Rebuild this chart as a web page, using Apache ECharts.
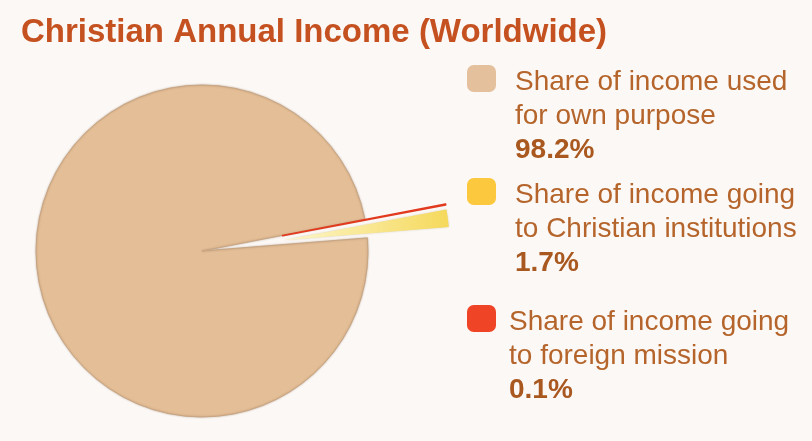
<!DOCTYPE html>
<html>
<head>
<meta charset="utf-8">
<script src="https://cdn.jsdelivr.net/npm/echarts@6/dist/echarts.min.js"></script>
<style>
  html, body { margin: 0; padding: 0; background: #fcf8f5; }
  #chart { width: 812px; height: 441px; }
</style>
</head>
<body>
<div id="chart"></div>
<script>
// 图表数据
const categories = [
  'Share of income used\nfor own purpose',
  'Share of income going\nto Christian institutions',
  'Share of income going\nto foreign mission'
]
const shares = [98.2, 1.7, 0.1]
const swatchColors = ['#e5c09c', '#fcc83e', '#ef4526']

const chart = echarts.init(document.getElementById('chart'))
const font = '"Liberation Sans", Arial, sans-serif'

// 每个图例单独摆放（间距不一样）
const legendTops = [-10.5, 102.5, 229.5]
const legendPadLeft = [14, 14, 8]

const legends = categories.map((name, i) => {
  return {
    data: [{ name: name, itemStyle: { color: swatchColors[i], borderWidth: 0, shadowBlur: 0 } }],
    left: 467,
    top: legendTops[i],
    padding: 0,
    orient: 'vertical',
    icon: 'roundRect',
    itemWidth: 29,
    itemHeight: 27,
    selectedMode: false,
    formatter: (n) => {
      const lines = n.split('\n').map(l => '{t|' + l + '}')
      return lines.join('\n') + '\n{p|' + shares[i] + '%}'
    },
    textStyle: {
      padding: [76, 0, 0, legendPadLeft[i]],
      backgroundColor: 'rgba(0,0,0,0)',
      rich: {
        t: { fontFamily: font, fontSize: 28, color: '#b5652b', lineHeight: 34 },
        p: { fontFamily: font, fontSize: 28, fontWeight: 'bold', color: '#a9581f', lineHeight: 34 }
      }
    }
  }
})

const sliceStyles = [
  {
    color: '#e4be96',
    borderColor: '#c9a684',
    borderWidth: 1,
    shadowBlur: 2,
    shadowColor: 'rgba(90,60,30,0.3)'
  },
  {
    color: new echarts.graphic.LinearGradient(0, 0, 1, 0, [
      { offset: 0, color: '#fdf6cc' },
      { offset: 1, color: '#f5d95c' }
    ]),
    shadowBlur: 2,
    shadowColor: 'rgba(120,100,40,0.3)'
  },
  {
    color: '#e23a1e',
    borderColor: '#e23a1e',
    borderWidth: 1.6
  }
]

const option = {
  backgroundColor: '#fcf8f5',
  animation: false,
  title: {
    text: 'Christian Annual Income (Worldwide)',
    left: 21,
    top: 16,
    padding: 0,
    textStyle: {
      fontFamily: font,
      fontSize: 33,
      fontWeight: 'bold',
      color: '#c4511f'
    }
  },
  legend: legends,
  series: [
    {
      type: 'pie',
      center: [202, 251],
      radius: [0, 166],
      startAngle: 11,
      clockwise: false,
      selectedMode: 'multiple',
      selectedOffset: 82,
      label: { show: false },
      labelLine: { show: false },
      emphasis: { disabled: true },
      data: categories.map((name, i) => {
        return {
          name: name,
          value: shares[i],
          selected: i > 0,
          itemStyle: sliceStyles[i]
        }
      })
    }
  ]
}

chart.setOption(option)
</script>
</body>
</html>
